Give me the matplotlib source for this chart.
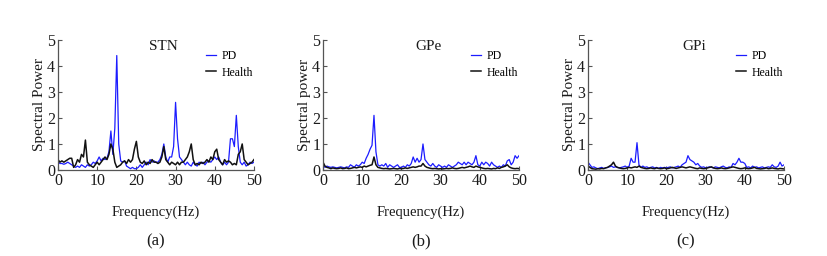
import matplotlib
matplotlib.use("Agg")
import matplotlib.pyplot as plt
import numpy as np

plt.rcParams["font.family"] = ["Liberation Serif", "DejaVu Serif"]

# ── data (0.5 Hz grid) ───────────────────────────────────────────────────────
freq = np.arange(0, 50.01, 0.5)

stn_pd = [
    0.30, 0.25, 0.25, 0.22, 0.25, 0.30, 0.25, 0.20, 0.15, 0.10,
    0.15, 0.10, 0.20, 0.15, 0.10, 0.20, 0.15, 0.20, 0.30, 0.25,
    0.35, 0.50, 0.35, 0.45, 0.40, 0.45, 0.70, 1.50, 0.60, 1.60,
    4.40, 1.00, 0.35, 0.30, 0.35, 0.15, 0.10, 0.05, 0.10, 0.05,
    0.05, 0.10, 0.20, 0.10, 0.20, 0.30, 0.20, 0.40, 0.30, 0.35,
    0.30, 0.30, 0.40, 0.60, 1.00, 0.50, 0.30, 0.50, 0.50, 0.90,
    2.60, 1.20, 0.50, 0.40, 0.30, 0.20, 0.30, 0.20, 0.15, 0.30,
    0.20, 0.15, 0.30, 0.25, 0.30, 0.20, 0.30, 0.35, 0.30, 0.40,
    0.50, 0.40, 0.50, 0.30, 0.20, 0.30, 0.20, 0.30, 1.20, 1.20,
    0.90, 2.10, 0.90, 0.30, 0.20, 0.30, 0.15, 0.20, 0.30, 0.25,
    0.30,
]
stn_health = [
    0.40, 0.30, 0.35, 0.30, 0.35, 0.40, 0.45, 0.45, 0.10, 0.20,
    0.40, 0.30, 0.60, 0.50, 1.15, 0.30, 0.20, 0.15, 0.10, 0.20,
    0.30, 0.20, 0.30, 0.40, 0.50, 0.40, 0.60, 1.00, 0.80, 0.30,
    0.10, 0.15, 0.20, 0.30, 0.35, 0.25, 0.40, 0.30, 0.40, 0.80,
    1.10, 0.50, 0.30, 0.25, 0.35, 0.20, 0.30, 0.25, 0.40, 0.30,
    0.30, 0.25, 0.30, 0.50, 0.90, 0.40, 0.30, 0.20, 0.30, 0.25,
    0.20, 0.30, 0.20, 0.30, 0.30, 0.40, 0.50, 0.70, 1.00, 0.40,
    0.20, 0.25, 0.20, 0.30, 0.25, 0.30, 0.40, 0.30, 0.50, 0.40,
    0.70, 0.80, 0.40, 0.30, 0.20, 0.40, 0.30, 0.35, 0.30, 0.20,
    0.25, 0.20, 0.60, 0.70, 1.00, 0.40, 0.30, 0.20, 0.25, 0.30,
    0.40,
]
gpe_pd = [
    0.20, 0.10, 0.15, 0.12, 0.10, 0.12, 0.10, 0.08, 0.10, 0.12,
    0.10, 0.08, 0.12, 0.10, 0.20, 0.15, 0.10, 0.20, 0.15, 0.20,
    0.30, 0.25, 0.45, 0.60, 0.80, 0.95, 2.10, 0.70, 0.20, 0.15,
    0.20, 0.15, 0.25, 0.10, 0.20, 0.15, 0.10, 0.15, 0.20, 0.10,
    0.10, 0.15, 0.10, 0.20, 0.15, 0.25, 0.50, 0.30, 0.45, 0.30,
    0.40, 1.00, 0.40, 0.30, 0.20, 0.15, 0.25, 0.15, 0.10, 0.20,
    0.15, 0.10, 0.15, 0.10, 0.20, 0.15, 0.10, 0.15, 0.20, 0.30,
    0.25, 0.20, 0.30, 0.20, 0.30, 0.25, 0.20, 0.30, 0.55, 0.20,
    0.15, 0.30, 0.20, 0.30, 0.25, 0.15, 0.30, 0.20, 0.15, 0.10,
    0.15, 0.10, 0.20, 0.15, 0.35, 0.40, 0.20, 0.30, 0.55, 0.45,
    0.55,
]
gpe_health = [
    0.30, 0.15, 0.10, 0.08, 0.05, 0.08, 0.06, 0.05, 0.06, 0.08,
    0.05, 0.06, 0.08, 0.05, 0.06, 0.08, 0.10, 0.08, 0.10, 0.12,
    0.10, 0.15, 0.12, 0.15, 0.18, 0.20, 0.50, 0.20, 0.10, 0.08,
    0.06, 0.05, 0.06, 0.05, 0.04, 0.05, 0.06, 0.05, 0.04, 0.06,
    0.05, 0.06, 0.08, 0.06, 0.08, 0.10, 0.12, 0.10, 0.12, 0.15,
    0.15, 0.25, 0.15, 0.10, 0.08, 0.06, 0.05, 0.06, 0.05, 0.04,
    0.05, 0.04, 0.05, 0.06, 0.05, 0.06, 0.08, 0.06, 0.05, 0.06,
    0.08, 0.10, 0.08, 0.10, 0.12, 0.15, 0.12, 0.10, 0.15, 0.12,
    0.10, 0.08, 0.06, 0.05, 0.06, 0.05, 0.04, 0.06, 0.05, 0.08,
    0.06, 0.10, 0.12, 0.15, 0.20, 0.12, 0.08, 0.06, 0.05, 0.06,
    0.05,
]
gpi_pd = [
    0.30, 0.20, 0.10, 0.12, 0.08, 0.05, 0.08, 0.10, 0.06, 0.08,
    0.10, 0.12, 0.15, 0.10, 0.12, 0.10, 0.08, 0.10, 0.12, 0.15,
    0.10, 0.15, 0.45, 0.30, 0.30, 1.05, 0.20, 0.10, 0.15, 0.10,
    0.12, 0.08, 0.10, 0.12, 0.08, 0.10, 0.06, 0.10, 0.08, 0.10,
    0.08, 0.10, 0.12, 0.08, 0.10, 0.12, 0.15, 0.10, 0.20, 0.25,
    0.30, 0.55, 0.40, 0.35, 0.30, 0.20, 0.25, 0.15, 0.10, 0.12,
    0.08, 0.10, 0.12, 0.10, 0.08, 0.12, 0.10, 0.08, 0.12, 0.15,
    0.10, 0.08, 0.12, 0.10, 0.25, 0.20, 0.30, 0.45, 0.30, 0.30,
    0.25, 0.10, 0.12, 0.08, 0.15, 0.10, 0.12, 0.08, 0.10, 0.12,
    0.08, 0.10, 0.12, 0.10, 0.20, 0.12, 0.10, 0.15, 0.30, 0.15,
    0.20,
]
gpi_health = [
    0.15, 0.10, 0.05, 0.04, 0.03, 0.05, 0.04, 0.06, 0.05, 0.08,
    0.10, 0.15, 0.20, 0.30, 0.15, 0.10, 0.08, 0.06, 0.05, 0.06,
    0.08, 0.10, 0.08, 0.10, 0.12, 0.10, 0.15, 0.10, 0.08, 0.06,
    0.05, 0.06, 0.08, 0.06, 0.05, 0.08, 0.06, 0.05, 0.06, 0.08,
    0.05, 0.06, 0.08, 0.10, 0.08, 0.06, 0.08, 0.10, 0.12, 0.10,
    0.08, 0.10, 0.12, 0.10, 0.08, 0.06, 0.05, 0.08, 0.06, 0.05,
    0.06, 0.08, 0.10, 0.12, 0.08, 0.06, 0.05, 0.06, 0.08, 0.06,
    0.05, 0.06, 0.08, 0.10, 0.12, 0.10, 0.08, 0.06, 0.05, 0.06,
    0.08, 0.06, 0.05, 0.06, 0.08, 0.10, 0.06, 0.05, 0.04, 0.05,
    0.06, 0.08, 0.05, 0.06, 0.08, 0.06, 0.05, 0.04, 0.06, 0.05,
    0.04,
]

titles = ["STN", "GPe", "GPi"]
ylabels = ["Spectral Power", "Spectral power", "Spectral Power"]
panel_tags = ["(a)", "(b)", "(c)"]
series = [(stn_pd, stn_health), (gpe_pd, gpe_health), (gpi_pd, gpi_health)]

# ── figure ───────────────────────────────────────────────────────────────────
fig = plt.figure(figsize=(8.27, 2.56), dpi=100)
lefts = [0.0701, 0.3906, 0.711]
TXT = "#1a1a1a"

for left, title, ylab, tag, (pd_vals, h_vals) in zip(
        lefts, titles, ylabels, panel_tags, series):
    ax = fig.add_axes([left, 0.336, 0.237, 0.508])
    ax.plot(freq, pd_vals, color="#1c1cff", lw=0.9, label="PD")
    ax.plot(freq, h_vals, color="#111111", lw=1.1, label="Health")
    ax.set_xlim(0, 50)
    ax.set_ylim(0, 5)
    ax.set_xticks([0, 10, 20, 30, 40, 50])
    ax.set_yticks([0, 1, 2, 3, 4, 5])
    for s in ("top", "right"):
        ax.spines[s].set_visible(False)
    for s in ("left", "bottom"):
        ax.spines[s].set_color("#555555")
        ax.spines[s].set_linewidth(0.9)
    ax.tick_params(direction="in", length=3, width=0.8, colors="#555555",
                   labelcolor=TXT, labelsize=11.5, pad=2)
    ax.set_ylabel(ylab, fontsize=11, color=TXT, labelpad=1)
    ax.set_xlabel("Frequency(Hz)", fontsize=10.5, color=TXT, labelpad=12)
    ax.text(27, 4.75, title, ha="center", va="center", fontsize=11, color=TXT)
    ax.legend(loc="upper left", bbox_to_anchor=(0.73, 0.96), frameon=False,
              fontsize=8.5, handlelength=0.9, handletextpad=0.4,
              labelspacing=0.4, borderaxespad=0)
    ax.text(0.5, -0.55, tag, transform=ax.transAxes, ha="center",
            va="center", fontsize=12, color=TXT)

fig.savefig("out.png", dpi=100)
